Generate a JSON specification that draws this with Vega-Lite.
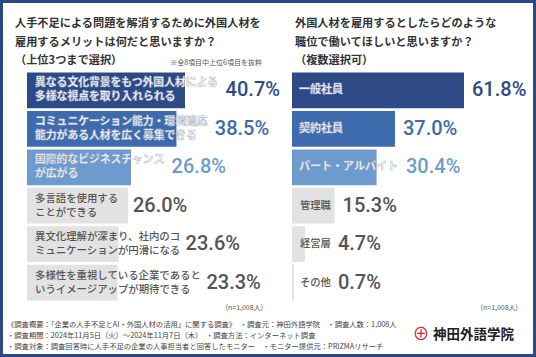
{
  "$schema": "https://vega.github.io/schema/vega-lite/v6.json",
  "width": 536,
  "height": 357,
  "padding": 0,
  "autosize": {"type": "none"},
  "background": "white",
  "config": {
    "view": {"stroke": "#2B4A85", "strokeWidth": 6},
    "font": "Noto Sans CJK JP",
    "text": {"font": "Noto Sans CJK JP"}
  },
  "datasets": {
    "left": [
      {"rank": 1, "share": 0.407, "label": "異なる文化背景をもつ外国人材による\n多様な視点を取り入れられる"},
      {"rank": 2, "share": 0.385, "label": "コミュニケーション能力・環境適応\n能力がある人材を広く募集できる"},
      {"rank": 3, "share": 0.268, "label": "国際的なビジネスチャンス\nが広がる"},
      {"rank": 4, "share": 0.260, "label": "多言語を使用する\nことができる"},
      {"rank": 5, "share": 0.236, "label": "異文化理解が深まり、社内のコ\nミュニケーションが円滑になる"},
      {"rank": 6, "share": 0.233, "label": "多様性を重視している企業であると\nいうイメージアップが期待できる"}
    ],
    "right": [
      {"rank": 1, "share": 0.618, "label": "一般社員"},
      {"rank": 2, "share": 0.370, "label": "契約社員"},
      {"rank": 3, "share": 0.304, "label": "パート・アルバイト"},
      {"rank": 4, "share": 0.153, "label": "管理職"},
      {"rank": 5, "share": 0.047, "label": "経営層"},
      {"rank": 6, "share": 0.007, "label": "その他"}
    ],
    "texts": [
      {"id": "Lq", "text": "人手不足による問題を解消するために外国人材を\n雇用するメリットは何だと思いますか？\n（上位3つまで選択）"},
      {"id": "Lnote", "text": "※全8項目中上位6項目を抜粋"},
      {"id": "Ln", "text": "(n=1,008人)"},
      {"id": "Rq", "text": "外国人材を雇用するとしたらどのような\n職位で働いてほしいと思いますか？\n（複数選択可）"},
      {"id": "Rn", "text": "(n=1,008人)"},
      {"id": "foot", "text": "《調査概要：「企業の人手不足とAI・外国人材の活用」に関する調査》　・調査元：神田外語学院　・調査人数：1,008人\n・調査期間：2024年11月5日（火）～2024年11月7日（木）　・調査方法：インターネット調査\n・調査対象：調査回答時に人手不足の企業の人事担当者と回答したモニター　・モニター提供元：PRIZMAリサーチ"},
      {"id": "logo", "text": "神田外語学院"},
      {"id": "icon", "text": "⊕"}
    ]
  },
  "layer": [
    {
      "layer": [
        {
          "data": {"name": "left"},
          "mark": {"type": "bar"},
          "encoding": {
            "y": {"field": "rank", "type": "ordinal", "axis": null,
                  "scale": {"domain": [0, 1, 2, 3, 4, 5, 6, 7], "paddingInner": 0.07, "paddingOuter": 0.6775, "align": 0.6535, "round": false}},
            "x": {"field": "share", "type": "quantitative", "axis": null,
                  "scale": {"domain": [-0.06955, 1.3112], "nice": false, "zero": false}},
            "x2": {"datum": 0},
            "color": {"field": "rank", "type": "ordinal", "legend": null,
                      "scale": {"domain": [1, 2, 3, 4, 5, 6], "range": ["#2D4A86", "#3E6BAD", "#6D9BCE", "#E2E2E2", "#E2E2E2", "#E2E2E2"]}}
          }
        },
        {
          "data": {"name": "left"},
          "transform": [{"filter": "datum.rank <= 3"}],
          "mark": {"type": "text", "align": "left", "baseline": "middle", "dx": 8, "dy": -7, "fontSize": 10.8, "fontWeight": "bold", "lineBreak": "\n", "lineHeight": 14, "color": "white", "stroke": "#A9B4C8", "strokeWidth": 0.5},
          "encoding": {
            "y": {"field": "rank", "type": "ordinal"},
            "x": {"datum": 0, "type": "quantitative"},
            "text": {"field": "label"}
          }
        },
        {
          "data": {"name": "left"},
          "transform": [{"filter": "datum.rank > 3"}],
          "mark": {"type": "text", "align": "left", "baseline": "middle", "dx": 8, "dy": -7, "fontSize": 10.4, "fontWeight": 500, "lineBreak": "\n", "lineHeight": 14, "color": "#555555"},
          "encoding": {
            "y": {"field": "rank", "type": "ordinal"},
            "x": {"datum": 0, "type": "quantitative"},
            "text": {"field": "label"}
          }
        },
        {
          "data": {"name": "left"},
          "mark": {"type": "text", "align": "left", "baseline": "middle", "font": "Roboto", "fontSize": 20, "fontWeight": 500,
                   "dx": {"expr": "max(datum.share*388.2, 8 + max(indexof(datum.label,'\\n'), length(datum.label)-indexof(datum.label,'\\n')-1)*(datum.rank<=3?10.8:10.4)) - datum.share*388.2 + (datum.rank<=3?7:5)"}},
          "encoding": {
            "y": {"field": "rank", "type": "ordinal"},
            "x": {"field": "share", "type": "quantitative"},
            "text": {"field": "share", "type": "quantitative", "format": ".1%"},
            "color": {"condition": {"test": "datum.rank > 3", "value": "#555555"}, "field": "rank", "type": "ordinal", "legend": null}
          }
        },
        {
          "data": {"name": "texts"},
          "transform": [{"filter": "datum.id == 'Lq'"}],
          "mark": {"type": "text", "align": "left", "baseline": "middle", "dx": -12, "dy": -66, "fontSize": 11.2, "fontWeight": "bold", "lineBreak": "\n", "lineHeight": 18.5, "color": "#333333"},
          "encoding": {
            "y": {"datum": 1, "type": "ordinal"},
            "x": {"datum": 0, "type": "quantitative"},
            "text": {"field": "text"}
          }
        },
        {
          "data": {"name": "texts"},
          "transform": [{"filter": "datum.id == 'Lnote'"}],
          "mark": {"type": "text", "align": "right", "baseline": "middle", "dx": 235, "dy": -27, "fontSize": 7, "color": "#555555"},
          "encoding": {
            "y": {"datum": 1, "type": "ordinal"},
            "x": {"datum": 0, "type": "quantitative"},
            "text": {"field": "text"}
          }
        },
        {
          "data": {"name": "texts"},
          "transform": [{"filter": "datum.id == 'Ln'"}],
          "mark": {"type": "text", "align": "right", "baseline": "middle", "dx": 236, "dy": 25, "fontSize": 7, "color": "#555555"},
          "encoding": {
            "y": {"datum": 6, "type": "ordinal"},
            "x": {"datum": 0, "type": "quantitative"},
            "text": {"field": "text"}
          }
        },
        {
          "data": {"name": "texts"},
          "transform": [{"filter": "datum.id == 'foot'"}],
          "mark": {"type": "text", "align": "left", "baseline": "middle", "dx": -20, "dy": 42.5, "fontSize": 7.3, "lineBreak": "\n", "lineHeight": 10.8, "color": "#444444"},
          "encoding": {
            "y": {"datum": 6, "type": "ordinal"},
            "x": {"datum": 0, "type": "quantitative"},
            "text": {"field": "text"}
          }
        }
      ]
    },
    {
      "layer": [
        {
          "data": {"name": "right"},
          "mark": {"type": "bar"},
          "encoding": {
            "y": {"field": "rank", "type": "ordinal"},
            "x": {"field": "share", "type": "quantitative", "axis": null,
                  "scale": {"domain": [-1.0492, 0.8768], "nice": false, "zero": false}},
            "x2": {"datum": 0},
            "color": {"field": "rank", "type": "ordinal", "legend": null}
          }
        },
        {
          "data": {"name": "right"},
          "transform": [{"filter": "datum.rank <= 3"}],
          "mark": {"type": "text", "align": "left", "baseline": "middle", "dx": 7, "fontSize": 11, "fontWeight": "bold", "color": "white", "stroke": "#A9B4C8", "strokeWidth": 0.5},
          "encoding": {
            "y": {"field": "rank", "type": "ordinal"},
            "x": {"datum": 0, "type": "quantitative"},
            "text": {"field": "label"}
          }
        },
        {
          "data": {"name": "right"},
          "transform": [{"filter": "datum.rank > 3"}],
          "mark": {"type": "text", "align": "left", "baseline": "middle", "dx": 8, "fontSize": 10.3, "fontWeight": 500, "color": "#555555"},
          "encoding": {
            "y": {"field": "rank", "type": "ordinal"},
            "x": {"datum": 0, "type": "quantitative"},
            "text": {"field": "label"}
          }
        },
        {
          "data": {"name": "right"},
          "mark": {"type": "text", "align": "left", "baseline": "middle", "font": "Roboto", "fontSize": 20, "fontWeight": 500,
                   "dx": {"expr": "max(datum.share*278.3, 7 + length(datum.label)*(datum.rank<=3?11:10.3)) - datum.share*278.3 + 8"}},
          "encoding": {
            "y": {"field": "rank", "type": "ordinal"},
            "x": {"field": "share", "type": "quantitative"},
            "text": {"field": "share", "type": "quantitative", "format": ".1%"},
            "color": {"condition": {"test": "datum.rank > 3", "value": "#555555"}, "field": "rank", "type": "ordinal", "legend": null}
          }
        },
        {
          "data": {"name": "texts"},
          "transform": [{"filter": "datum.id == 'Rq'"}],
          "mark": {"type": "text", "align": "left", "baseline": "middle", "dx": 3, "dy": -66, "fontSize": 11.2, "fontWeight": "bold", "lineBreak": "\n", "lineHeight": 18.5, "color": "#333333"},
          "encoding": {
            "y": {"datum": 1, "type": "ordinal"},
            "x": {"datum": 0, "type": "quantitative"},
            "text": {"field": "text"}
          }
        },
        {
          "data": {"name": "texts"},
          "transform": [{"filter": "datum.id == 'Rn'"}],
          "mark": {"type": "text", "align": "right", "baseline": "middle", "dx": 226, "dy": 25, "fontSize": 7, "color": "#555555"},
          "encoding": {
            "y": {"datum": 6, "type": "ordinal"},
            "x": {"datum": 0, "type": "quantitative"},
            "text": {"field": "text"}
          }
        },
        {
          "data": {"name": "texts"},
          "transform": [{"filter": "datum.id == 'logo'"}],
          "mark": {"type": "text", "align": "left", "baseline": "middle", "dx": 141, "dy": 52.5, "fontSize": 13.5, "fontWeight": "bold", "color": "#222222"},
          "encoding": {
            "y": {"datum": 6, "type": "ordinal"},
            "x": {"datum": 0, "type": "quantitative"},
            "text": {"field": "text"}
          }
        },
        {
          "data": {"name": "texts"},
          "transform": [{"filter": "datum.id == 'icon'"}],
          "mark": {"type": "text", "align": "center", "baseline": "middle", "dx": 129, "dy": 52.5, "fontSize": 17, "color": "#C8283C"},
          "encoding": {
            "y": {"datum": 6, "type": "ordinal"},
            "x": {"datum": 0, "type": "quantitative"},
            "text": {"field": "text"}
          }
        }
      ]
    }
  ],
  "resolve": {"scale": {"x": "independent"}}
}
